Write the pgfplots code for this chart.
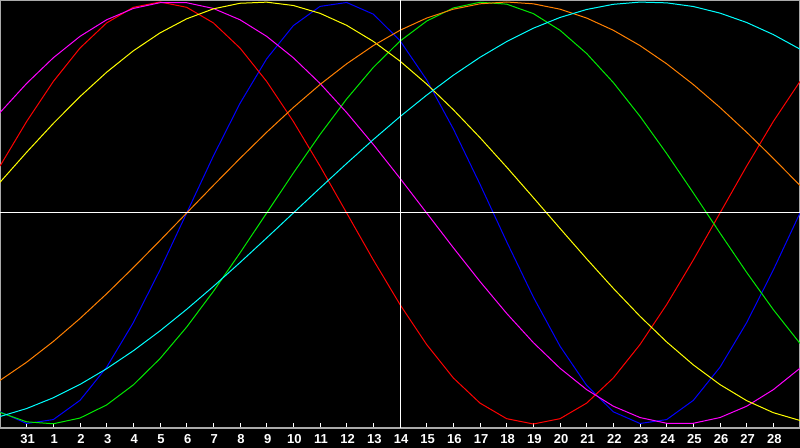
\documentclass[border=0pt]{standalone}
\usepackage{fontspec}
\setmainfont{Liberation Sans}
\usepackage{pgfplots}
\pgfplotsset{compat=1.18}
\definecolor{bgray}{RGB}{170,170,170}
\definecolor{cred}{RGB}{255,0,0}
\definecolor{cgreen}{RGB}{0,235,0}
\definecolor{cblue}{RGB}{0,0,255}
\definecolor{cyellow}{RGB}{255,255,0}
\definecolor{cmagenta}{RGB}{255,0,255}
\definecolor{ccyan}{RGB}{0,255,255}
\definecolor{corange}{RGB}{255,128,0}
\begin{document}
\begin{tikzpicture}
\useasboundingbox (0,0) rectangle (800bp,448bp);
\fill[black] (0,0) rectangle (800bp,448bp);
\begin{axis}[
    at={(0,20bp)}, anchor=south west,
    scale only axis, width=800bp, height=428bp,
    xmin=-1, xmax=29, ymin=-1.019, ymax=1.0095,
    axis line style={bgray, line width=1.5bp},
    xtick={0,1,2,3,4,5,6,7,8,9,10,11,12,13,14,15,16,17,18,19,20,21,22,23,24,25,26,27,28},
    xticklabels={31,1,2,3,4,5,6,7,8,9,10,11,12,13,14,15,16,17,18,19,20,21,22,23,24,25,26,27,28},
    ytick=\empty,
    xtick pos=bottom,
    tick align=inside,
    major tick length=5bp,
    tick style={white, line width=1bp},
    xticklabel style={text=white, font=\bfseries\fontsize{13bp}{13bp}\selectfont, anchor=base, yshift=-15.5bp, xshift=1bp},
    every axis plot/.append style={line width=1bp, mark=none},
]
% physical 23 d
\addplot[cblue] coordinates {
 (-1,-0.9423) (0,-0.9977) (1,-0.9791) (2,-0.8879) (3,-0.7308) (4,-0.5196)
 (5,-0.2698) (6,0) (7,0.2698) (8,0.5196) (9,0.7308) (10,0.8879)
 (11,0.9791) (12,0.9977) (13,0.9423) (14,0.8170) (15,0.6311) (16,0.3984)
 (17,0.1362) (18,-0.1362) (19,-0.3984) (20,-0.6311) (21,-0.8170) (22,-0.9423)
 (23,-0.9977) (24,-0.9791) (25,-0.8879) (26,-0.7308) (27,-0.5196) (28,-0.2698) (29,0)
};
% emotional 28 d
\addplot[cred] coordinates {
 (-1,0.2225) (0,0.4339) (1,0.6235) (2,0.7818) (3,0.9010) (4,0.9749)
 (5,1) (6,0.9749) (7,0.9010) (8,0.7818) (9,0.6235) (10,0.4339)
 (11,0.2225) (12,0) (13,-0.2225) (14,-0.4339) (15,-0.6235) (16,-0.7818)
 (17,-0.9010) (18,-0.9749) (19,-1) (20,-0.9749) (21,-0.9010) (22,-0.7818)
 (23,-0.6235) (24,-0.4339) (25,-0.2225) (26,0) (27,0.2225) (28,0.4339) (29,0.6235)
};
% intellectual 33 d
\addplot[cgreen] coordinates {
 (-1,-0.9450) (0,-0.9898) (1,-0.9989) (2,-0.9718) (3,-0.9096) (4,-0.8146)
 (5,-0.6901) (6,-0.5406) (7,-0.3717) (8,-0.1893) (9,0) (10,0.1893)
 (11,0.3717) (12,0.5406) (13,0.6901) (14,0.8146) (15,0.9096) (16,0.9718)
 (17,0.9989) (18,0.9898) (19,0.9450) (20,0.8660) (21,0.7557) (22,0.6182)
 (23,0.4582) (24,0.2817) (25,0.0951) (26,-0.0951) (27,-0.2817) (28,-0.4582) (29,-0.6182)
};
% 38 d
\addplot[cmagenta] coordinates {
 (-1,0.4759) (0,0.6142) (1,0.7357) (2,0.8372) (3,0.9158) (4,0.9694)
 (5,0.9966) (6,0.9966) (7,0.9694) (8,0.9158) (9,0.8372) (10,0.7357)
 (11,0.6142) (12,0.4759) (13,0.3247) (14,0.1646) (15,0) (16,-0.1646)
 (17,-0.3247) (18,-0.4759) (19,-0.6142) (20,-0.7357) (21,-0.8372) (22,-0.9158)
 (23,-0.9694) (24,-0.9966) (25,-0.9966) (26,-0.9694) (27,-0.9158) (28,-0.8372) (29,-0.7357)
};
% 43 d
\addplot[cyellow] coordinates {
 (-1,0.1456) (0,0.2881) (1,0.4244) (2,0.5517) (3,0.6673) (4,0.7686)
 (5,0.8535) (6,0.9203) (7,0.9675) (8,0.9940) (9,0.9993) (10,0.9834)
 (11,0.9464) (12,0.8894) (13,0.8133) (14,0.7199) (15,0.6112) (16,0.4894)
 (17,0.3572) (18,0.2174) (19,0.0730) (20,-0.0730) (21,-0.2174) (22,-0.3572)
 (23,-0.4894) (24,-0.6112) (25,-0.7199) (26,-0.8133) (27,-0.8894) (28,-0.9464) (29,-0.9834)
};
% 48 d
\addplot[corange] coordinates {
 (-1,-0.7934) (0,-0.7071) (1,-0.6088) (2,-0.5) (3,-0.3827) (4,-0.2588)
 (5,-0.1305) (6,0) (7,0.1305) (8,0.2588) (9,0.3827) (10,0.5)
 (11,0.6088) (12,0.7071) (13,0.7934) (14,0.8660) (15,0.9239) (16,0.9659)
 (17,0.9914) (18,1) (19,0.9914) (20,0.9659) (21,0.9239) (22,0.8660)
 (23,0.7934) (24,0.7071) (25,0.6088) (26,0.5) (27,0.3827) (28,0.2588) (29,0.1305)
};
% 53 d
\addplot[ccyan] coordinates {
 (-1,-0.9646) (0,-0.9267) (1,-0.8757) (2,-0.8125) (3,-0.7379) (4,-0.6529)
 (5,-0.5586) (6,-0.4566) (7,-0.3482) (8,-0.2349) (9,-0.1183) (10,0)
 (11,0.1183) (12,0.2349) (13,0.3482) (14,0.4566) (15,0.5586) (16,0.6529)
 (17,0.7379) (18,0.8125) (19,0.8757) (20,0.9267) (21,0.9646) (22,0.9890)
 (23,0.9996) (24,0.9960) (25,0.9786) (26,0.9473) (27,0.9028) (28,0.8456) (29,0.7765)
};
% today and zero line
\addplot[white] coordinates {(14,-1.019) (14,1.0095)};
\addplot[white] coordinates {(-1,0) (29,0)};
\end{axis}
\end{tikzpicture}
\end{document}
